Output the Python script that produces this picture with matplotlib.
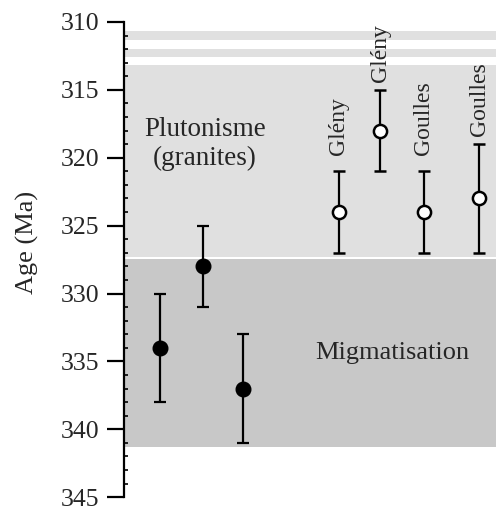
import numpy as np
import matplotlib
matplotlib.use("Agg")
import matplotlib.pyplot as plt
from matplotlib.ticker import MultipleLocator

plt.rcParams['font.family'] = ['Liberation Serif', 'DejaVu Serif']

# migmatite ages (filled) and granite ages (open)
mig_x = [36, 79, 119]
mig_age = [334, 328, 337]
mig_err = [4, 3, 4]

gra_x = [215, 256, 300, 355]
gra_age = [324, 318, 324, 323]
gra_lo = [3, 3, 3, 4]   # error towards older ages
gra_hi = [3, 3, 3, 4]   # error towards younger ages
gra_names = ["Glény", "Glény", "Goulles", "Goulles"]
gra_label_y = [319.8, 314.4, 319.8, 318.4]

# shaded intervals (Ma)
light_bands = [(310.7, 311.3), (312.0, 312.6), (313.2, 327.3)]
dark_band = (327.45, 341.3)

fig = plt.figure(figsize=(4.96, 5.11), dpi=100)
ax = fig.add_axes([0.25, 0.027, 0.75, 0.930])

for lo, hi in light_bands:
    ax.axhspan(lo, hi, color="#e0e0e0", lw=0, zorder=0)
ax.axhspan(dark_band[0], dark_band[1], color="#c8c8c8", lw=0, zorder=0)

ax.errorbar(mig_x, mig_age, yerr=mig_err, fmt="o", color="black", ms=10.5,
            elinewidth=1.6, capsize=4.5, capthick=1.6, zorder=3)
ax.errorbar(gra_x, gra_age, yerr=[gra_hi, gra_lo], fmt="o", color="black",
            mfc="white", mec="black", mew=1.8, ms=9.5,
            elinewidth=1.6, capsize=4.5, capthick=1.6, zorder=3)

for x, y, name in zip(gra_x, gra_label_y, gra_names):
    ax.text(x, y, name, rotation=90, ha="center", va="bottom", fontsize=17,
            color="#262626")

ax.text(81, 319.0, "Plutonisme\n(granites)", ha="center", va="center",
        fontsize=19.5, color="#262626", linespacing=1.2)
ax.text(268, 334.4, "Migmatisation", ha="center", va="center",
        fontsize=19, color="#262626")

ax.set_xlim(0, 372)
ax.set_ylim(345, 310)
ax.yaxis.set_major_locator(MultipleLocator(5))
ax.yaxis.set_minor_locator(MultipleLocator(1))
ax.tick_params(axis="y", which="major", direction="out", length=12, width=1.6,
               labelsize=18.5, pad=6, labelcolor="#262626")
ax.tick_params(axis="y", which="minor", direction="in", length=3, width=1.2)
ax.set_xticks([])
for s in ["top", "right", "bottom"]:
    ax.spines[s].set_visible(False)
ax.spines["left"].set_linewidth(1.6)
ax.set_ylabel("Age (Ma)", fontsize=19, color="#262626")
ax.yaxis.set_label_coords(-0.228, 0.537)

fig.savefig("out.png", dpi=100)
